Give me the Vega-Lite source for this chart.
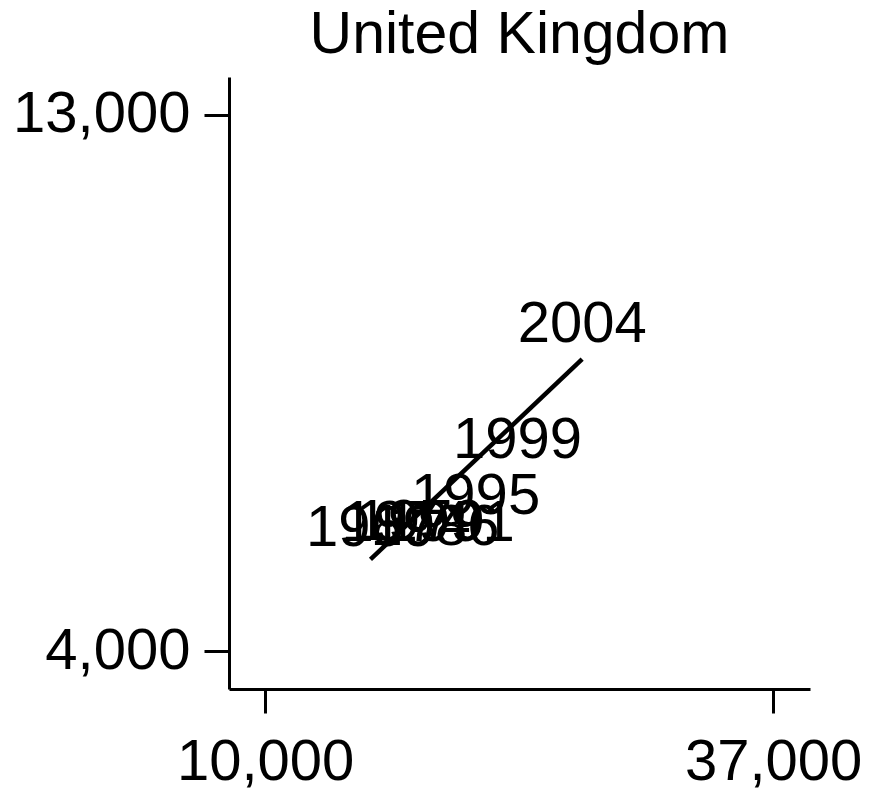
{
  "$schema": "https://vega.github.io/schema/vega-lite/v6.json",
  "autosize": "none",
  "width": 581,
  "height": 612,
  "padding": {"left": 229, "top": 77, "right": 59, "bottom": 100},
  "background": "white",
  "title": {
    "text": "United Kingdom",
    "anchor": "middle",
    "frame": "group",
    "baseline": "alphabetic",
    "offset": -35,
    "font": "Liberation Sans",
    "fontSize": 59,
    "fontWeight": "normal",
    "color": "black"
  },
  "datasets": {
    "years": [
      {"year": "1969", "x": 15600, "y": 6099},
      {"year": "1974", "x": 17494, "y": 6183},
      {"year": "1979", "x": 18238, "y": 6200},
      {"year": "1986", "x": 19035, "y": 6116},
      {"year": "1991", "x": 19833, "y": 6183},
      {"year": "1995", "x": 21188, "y": 6636},
      {"year": "1999", "x": 23420, "y": 7577},
      {"year": "2004", "x": 26850, "y": 9525}
    ],
    "fit": [
      {"x": 15600, "y": 5540},
      {"x": 26850, "y": 8900}
    ]
  },
  "encoding": {
    "x": {
      "field": "x",
      "type": "quantitative",
      "scale": {"domain": [8080, 38960], "nice": false, "zero": false},
      "axis": {
        "values": [10000, 37000],
        "format": ",.0f",
        "title": null,
        "grid": false,
        "domainColor": "black",
        "domainWidth": 3,
        "tickColor": "black",
        "tickWidth": 3,
        "tickSize": 24,
        "labelPadding": 20,
        "labelFont": "Liberation Sans",
        "labelFontSize": 58,
        "labelColor": "black",
        "labelFlush": false,
        "labelOverlap": false
      }
    },
    "y": {
      "field": "y",
      "type": "quantitative",
      "scale": {"domain": [3362, 13638], "nice": false, "zero": false},
      "axis": {
        "values": [4000, 13000],
        "format": ",.0f",
        "title": null,
        "grid": false,
        "domainColor": "black",
        "domainWidth": 3,
        "tickColor": "black",
        "tickWidth": 3,
        "tickSize": 25,
        "labelPadding": 14,
        "labelFont": "Liberation Sans",
        "labelFontSize": 58,
        "labelColor": "black",
        "labelFlush": false,
        "labelOverlap": false
      }
    }
  },
  "layer": [
    {
      "data": {"name": "fit"},
      "mark": {"type": "line", "color": "black", "strokeWidth": 4.5, "strokeCap": "butt"},
      "encoding": {}
    },
    {
      "data": {"name": "years"},
      "mark": {
        "type": "text",
        "font": "Liberation Sans",
        "fontSize": 58,
        "align": "center",
        "baseline": "middle",
        "dy": 3,
        "color": "black"
      },
      "encoding": {"text": {"field": "year"}}
    }
  ],
  "config": {"view": {"stroke": null}}
}
